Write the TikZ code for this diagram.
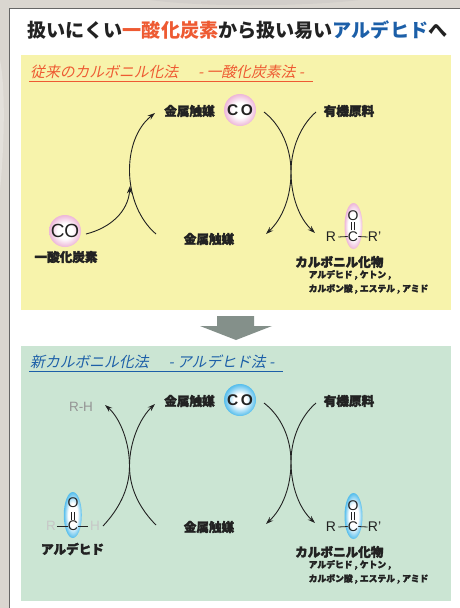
\documentclass[tikz,border=0pt]{standalone}
\usepackage{fontspec}
\usetikzlibrary{arrows.meta,shapes.geometric}
\setmainfont{Liberation Sans}
\newfontfamily\jp{Noto Sans CJK JP}
\newfontfamily\jpheavy{Noto Sans CJK JP}[BoldFeatures={FakeBold=2.6}]
\newfontfamily\jpit{Noto Sans CJK JP}[FakeSlant=0.22]
\definecolor{ink}{HTML}{222222}
\definecolor{redt}{HTML}{EE5A32}
\definecolor{bluet}{HTML}{1C5FA8}
\definecolor{yellowp}{HTML}{F7F3AB}
\definecolor{greenp}{HTML}{CBE5D3}
\definecolor{pinkr}{HTML}{EDB6D8}
\definecolor{bluer}{HTML}{55BDEC}
\definecolor{arrowg}{HTML}{84908A}
\definecolor{bgc}{HTML}{DAD6D0}
\pgfdeclareradialshading{pinkball}{\pgfpointorigin}{color(0bp)=(white); color(12bp)=(white); color(25bp)=(pinkr); color(50bp)=(pinkr)}
\pgfdeclareradialshading{blueball}{\pgfpointorigin}{color(0bp)=(white); color(10bp)=(white); color(25bp)=(bluer); color(50bp)=(bluer)}
\pgfdeclareradialshading{pinkoval}{\pgfpointorigin}{color(0bp)=(white); color(15bp)=(white); color(25bp)=(pinkr); color(50bp)=(pinkr)}
\pgfdeclareradialshading{blueoval}{\pgfpointorigin}{color(0bp)=(white); color(13bp)=(white); color(25bp)=(bluer); color(50bp)=(bluer)}
\tikzset{
  heavy/.style={inner sep=0pt,text=ink,font={\jpheavy\bfseries\fontsize{12.6}{14}\selectfont}},
  subtext/.style={inner sep=0pt,text=ink,anchor=west,font={\jpheavy\bfseries\fontsize{8.8}{11}\selectfont}},
  head/.style={inner sep=0pt,anchor=west,font={\jpit\fontsize{14.8}{17}\selectfont}},
  atom/.style={inner sep=0pt,text=ink,font={\fontsize{14}{15}\selectfont}},
  faint/.style={inner sep=0pt,font={\fontsize{13.5}{15}\selectfont}},
  ball/.style={circle,minimum size=32pt,inner sep=0pt,text=ink},
  oval/.style={ellipse,minimum width=18pt,minimum height=46pt,inner sep=0pt},
  arr/.style={ink,line width=0.9pt,-{Stealth[length=7.5pt,width=5pt]}},
  bond/.style={ink,line width=0.8pt},
  panelrule/.style={line width=0.9pt}
}
\begin{document}
\begin{tikzpicture}[x=1pt,y=-1pt]
\useasboundingbox (0,0) rectangle (460,608);
% background and sheet
\fill[bgc] (0,0) rectangle (460,608);
\fill[white,opacity=.25] (0,60) .. controls (6,90) and (4,150) .. (0,190) -- cycle;
\fill[black!30,opacity=.2] (150,0) .. controls (200,7) and (300,7) .. (360,0) -- cycle;
\fill[white,draw=black!60,line width=1pt] (9,8.5) rectangle (470,620);
\fill[yellowp] (21,55) rectangle (451,310);
\fill[greenp] (21,346) rectangle (451,601);
% title
\node[inner sep=0pt,text=ink,font={\jp\bfseries\fontsize{19.1}{22}\selectfont}] (title) at (237.5,30)
  {扱いにくい\textcolor{redt}{一酸化炭素}から扱い易い\textcolor{bluet}{アルデヒド}へ};
% block arrow
\fill[arrowg] (217,316) -- (254,316) -- (254,326) -- (272,326) -- (236,340) -- (200,326) -- (217,326) -- cycle;
% headings
\node[head,text=redt] (h1) at (30,72) {従来のカルボニル化法\hspace{20pt}- 一酸化炭素法 -};
\coordinate (h1a) at (29,81); \coordinate (h1b) at (313,81);
\draw[panelrule,redt] (h1a) -- (h1b);
\node[head,text=bluet] (h2) at (30,362) {新カルボニル化法\hspace{20pt}- アルデヒド法 -};
\coordinate (h2a) at (29,371); \coordinate (h2b) at (283,371);
\draw[panelrule,bluet] (h2a) -- (h2b);
% upper cycle
\node[heavy] (m1) at (189.5,111) {金属触媒};
\node[heavy] (m2) at (209,239) {金属触媒};
\node[heavy] (o1) at (349,111) {有機原料};
\node[ball,shading=pinkball] (co1) at (240,110) {\bfseries\fontsize{15.5}{16}\selectfont C\kern2.5pt O};
\node[ball,shading=pinkball] (co2) at (65,231) {\fontsize{19}{20}\selectfont CO};
\node[heavy] (co2l) at (66,257) {一酸化炭素};
\node[oval,shading=pinkoval] (e1) at (353.5,226) {};
\node[atom] (O1) at (353,216) {O};
\node[atom] (C1) at (353,236.5) {C};
\node[atom] (R1) at (331,237) {R};
\node[atom] (R1p) at (374.5,237) {R'};
\draw[bond] (C1.north) ++(-1.7,-1) -- ++(0,-8);
\draw[bond] (C1.north) ++(1.7,-1) -- ++(0,-8);
\draw[bond] (R1.east) ++(2,0) -- (C1.west);
\draw[bond] (C1.east) -- (R1p.west);
\node[heavy,anchor=west] (k1) at (295,262) {カルボニル化物};
\node[subtext] (k1a) at (308.5,275) {アルデヒド , ケトン ,};
\node[subtext] (k1b) at (308.5,289) {カルボン酸 , エステル , アミド};
\coordinate (a1) at (156,234); \coordinate (a2) at (155,113);
\coordinate (b1) at (86,234); \coordinate (b2) at (130,186);
\coordinate (c1) at (264,112); \coordinate (c2) at (315,233);
\coordinate (d1) at (316,112); \coordinate (d2) at (266,234);
\coordinate (x1) at (291,172);
\draw[arr] (a1) .. controls (122,205) and (121,140) .. (a2);
\draw[arr] (b1) .. controls (110,228) and (128,212) .. (b2);
\draw[arr] (c1) .. controls (281,125) and (291,148) .. (x1) .. controls (291,196) and (299,218) .. (c2);
\draw[arr] (d1) .. controls (301,125) and (291,148) .. (x1) .. controls (291,196) and (283,218) .. (d2);
% lower cycle
\node[faint,text=black!42] (rh) at (81,407) {R-H};
\node[heavy] (m3) at (189.5,401) {金属触媒};
\node[heavy] (m4) at (209,527) {金属触媒};
\node[heavy] (o2) at (349,401) {有機原料};
\node[ball,shading=blueball] (co3) at (240,400) {\bfseries\fontsize{15.5}{16}\selectfont C\kern2.5pt O};
\node[oval,shading=blueoval] (e2) at (72.8,515) {};
\node[atom] (O2) at (73,503) {O};
\node[atom] (C2) at (73,526) {C};
\node[faint,text=black!22] (R2) at (51,526) {R};
\node[faint,text=black!22] (H2) at (95,526) {H};
\draw[bond] (C2.north) ++(-1.7,-1) -- ++(0,-8);
\draw[bond] (C2.north) ++(1.7,-1) -- ++(0,-8);
\draw[bond] (R2.east) ++(1,0) -- (C2.west);
\draw[bond] (C2.east) -- ++(10,0);
\node[heavy] (ald) at (72.5,549) {アルデヒド};
\node[oval,shading=blueoval] (e3) at (353.5,516) {};
\node[atom] (O3) at (353,506) {O};
\node[atom] (C3) at (353,526.5) {C};
\node[atom] (R3) at (331,527) {R};
\node[atom] (R3p) at (374.5,527) {R'};
\draw[bond] (C3.north) ++(-1.7,-1) -- ++(0,-8);
\draw[bond] (C3.north) ++(1.7,-1) -- ++(0,-8);
\draw[bond] (R3.east) ++(2,0) -- (C3.west);
\draw[bond] (C3.east) -- (R3p.west);
\node[heavy,anchor=west] (k2) at (295,552) {カルボニル化物};
\node[subtext] (k2a) at (308.5,565) {アルデヒド , ケトン ,};
\node[subtext] (k2b) at (308.5,579) {カルボン酸 , エステル , アミド};
\coordinate (e1s) at (103,526); \coordinate (e1t) at (155,404);
\coordinate (f1s) at (156,525); \coordinate (f1t) at (105,405);
\coordinate (x2) at (129.5,466);
\coordinate (g1) at (264,403); \coordinate (g2) at (315,523);
\coordinate (i1) at (316,403); \coordinate (i2) at (266,524);
\coordinate (x3) at (291,462);
\draw[arr] (e1s) .. controls (118,510) and (129.5,490) .. (x2) .. controls (129.5,442) and (140,418) .. (e1t);
\draw[arr] (f1s) .. controls (141,510) and (129.5,490) .. (x2) .. controls (129.5,442) and (120,418) .. (f1t);
\draw[arr] (g1) .. controls (281,416) and (291,438) .. (x3) .. controls (291,486) and (299,508) .. (g2);
\draw[arr] (i1) .. controls (301,416) and (291,438) .. (x3) .. controls (291,486) and (283,508) .. (i2);
\end{tikzpicture}
\end{document}
